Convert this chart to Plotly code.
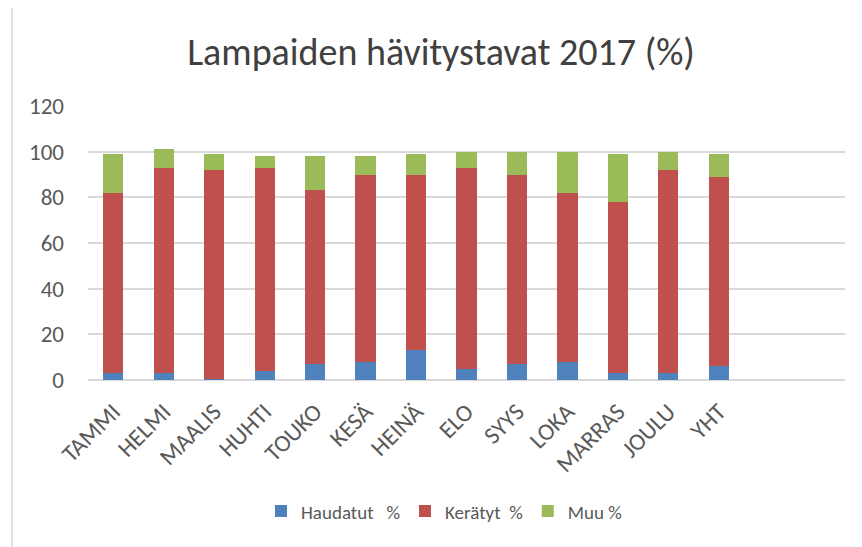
import plotly.graph_objects as go

months = ["TAMMI", "HELMI", "MAALIS", "HUHTI", "TOUKO", "KESÄ", "HEINÄ",
          "ELO", "SYYS", "LOKA", "MARRAS", "JOULU", "YHT"]
haudatut = [3, 3, 0.5, 4, 7, 8, 13, 5, 7, 8, 3, 3, 6]
keratyt = [79, 90, 91.5, 89, 76, 82, 77, 88, 83, 74, 75, 89, 83]
muu = [17, 8, 7, 5, 15, 8, 9, 7, 10, 18, 21, 8, 10]
y_ticks = [0, 20, 40, 60, 80, 100, 120]

FONT = "Carlito, Calibri, Lato, sans-serif"
TXT = "#595959"

fig = go.Figure()
fig.add_trace(go.Bar(x=months, y=haudatut, name="Haudatut   %", marker_color="#4F81BD"))
fig.add_trace(go.Bar(x=months, y=keratyt, name="Kerätyt  %", marker_color="#C0504D"))
fig.add_trace(go.Bar(x=months, y=muu, name="Muu %", marker_color="#9BBB59"))
fig.update_traces(marker_line_width=0)

OFF = 8  # page body margin
PW, PH = 862, 547
W, H = PW - OFF, PH - OFF
# plot area in page pixels
PL, PR, PT, PB = 88, 845, 106, 380.5
L, R, T, B = PL - OFF, PW - PR, PT - OFF, PH - PB
pw, ph = PR - PL, PB - PT

def px(x):
    return (x - PL) / pw

def py(y):
    return (PB - y) / ph

fig.update_layout(
    width=W, height=H,
    margin=dict(l=L, r=R, t=T, b=B, pad=0),
    barmode="stack", bargap=0.6,
    plot_bgcolor="white", paper_bgcolor="white",
    font=dict(family=FONT, color=TXT),
    title=dict(text="Lampaiden hävitystavat 2017 (%)", x=px(441), xref="paper",
               xanchor="center", y=1 - (52 - OFF) / H, yref="container", yanchor="middle",
               font=dict(size=38, color="#404040", family=FONT)),
    showlegend=True,
    legend=dict(orientation="h", x=px(444), xanchor="center", y=py(512), yanchor="middle",
                font=dict(size=19, color=TXT, family=FONT), traceorder="normal",
                itemwidth=30, bgcolor="rgba(0,0,0,0)"),
    xaxis=dict(type="category", categoryorder="array", categoryarray=months,
               range=[-0.5, 14.5], tickangle=-45, showgrid=False, showline=False,
               ticks="", ticklabelstandoff=12,
               tickfont=dict(size=24, color=TXT, family=FONT)),
    yaxis=dict(range=[0, 120], tickvals=y_ticks, showgrid=True, gridcolor="#D9D9D9",
               gridwidth=1.5, zeroline=True, zerolinecolor="#D9D9D9", zerolinewidth=1.5,
               showline=False, ticks="", ticklabelstandoff=23,
               tickfont=dict(size=23, color=TXT, family=FONT)),
    shapes=[
        dict(type="line", xref="paper", yref="paper", x0=px(12), x1=px(12),
             y0=py(PH + 5), y1=py(7), line=dict(color="#D9D9D9", width=1.5)),
        dict(type="line", xref="paper", yref="paper", x0=px(12), x1=px(PW + 5),
             y0=py(7), y1=py(7), line=dict(color="#D9D9D9", width=1.5)),
    ],
)

fig.write_html("out.html")
